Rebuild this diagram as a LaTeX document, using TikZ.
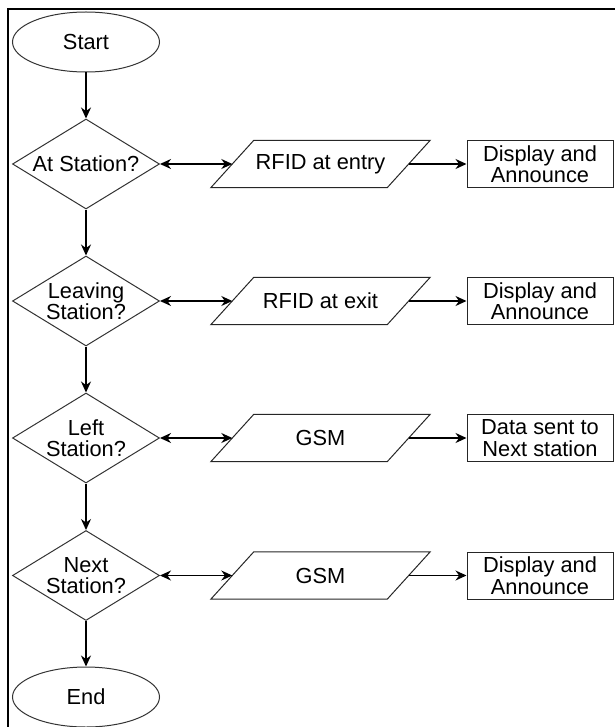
\documentclass[tikz,border=0pt]{standalone}
\usepackage{fontspec}
\setmainfont{Liberation Sans}
\usetikzlibrary{shapes.geometric,arrows.meta}
\begin{document}
\begin{tikzpicture}[x=1pt,y=-1pt,
  every node/.style={font=\fontsize{21.8}{21.5}\selectfont, text=black},
  term/.style={ellipse, draw=black!80, line width=1pt, minimum width=147pt, minimum height=60pt, inner sep=0pt},
  decision/.style={diamond, draw=black!80, line width=1pt, minimum width=147pt, minimum height=90pt, aspect=1.633, inner sep=0pt, align=center},
  iobox/.style={rectangle, minimum width=219pt, minimum height=47pt, inner sep=0pt},
  para/.style={draw=black!85, line width=1pt, line join=miter},
  outbox/.style={rectangle, draw=black!85, line width=1pt, minimum width=146pt, minimum height=47pt, inner sep=0pt, align=center},
  flow/.style={draw=black, line width=1.3pt, -{Stealth[length=11pt,width=10pt]}},
  biflow/.style={draw=black, line width=1.3pt, {Stealth[length=11pt,width=10pt]}-{Stealth[length=11pt,width=10pt]}},
  frame/.style={draw=black, line width=2pt}
]
\useasboundingbox (0,0) rectangle (614,727);
\draw[frame] (7.5,728) -- (7.5,9.5) -- (615,9.5);

% main column
\node[term] (start) at (86,42) {Start};
\node[decision] (d1) at (86,164) {At Station?};
\node[decision] (d2) at (86,301) {Leaving\\Station?};
\node[decision] (d3) at (86,438) {Left\\Station?};
\node[decision] (d4) at (86,575.5) {Next\\Station?};
\node[term] (end) at (86,697) {End};

% input/output (parallelograms)
\node[iobox] (p1) at (320.5,164) {RFID at entry};
\node[iobox] (p2) at (320.5,301) {RFID at exit};
\node[iobox] (p3) at (320.5,438) {GSM};
\node[iobox] (p4) at (320.5,575.5) {GSM};
\foreach \p in {p1,p2,p3,p4}{
  \draw[para] (\p.south west) -- ([xshift=-43pt]\p.south east) -- (\p.north east) -- ([xshift=43pt]\p.north west) -- cycle;
  \coordinate (\p l) at ([xshift=21.5pt]\p.west);
  \coordinate (\p r) at ([xshift=-21.5pt]\p.east);
}

% outputs
\node[outbox] (o1) at (540,164) {Display and\\Announce};
\node[outbox] (o2) at (540,301) {Display and\\Announce};
\node[outbox] (o3) at (540,438) {Data sent to\\Next station};
\node[outbox] (o4) at (540,575.5) {Display and\\Announce};

% connectors
\draw[flow] (start) -- (d1);
\draw[flow] (d1) -- (d2);
\draw[flow] (d2) -- (d3);
\draw[flow] (d3) -- (d4);
\draw[flow] (d4) -- (end);
\draw[biflow] (d1.east) -- (p1l);
\draw[biflow] (d2.east) -- (p2l);
\draw[biflow] (d3.east) -- (p3l);
\draw[biflow] (d4.east) -- (p4l);
\draw[flow] (p1r) -- (o1.west);
\draw[flow] (p2r) -- (o2.west);
\draw[flow] (p3r) -- (o3.west);
\draw[flow] (p4r) -- (o4.west);
\end{tikzpicture}
\end{document}
